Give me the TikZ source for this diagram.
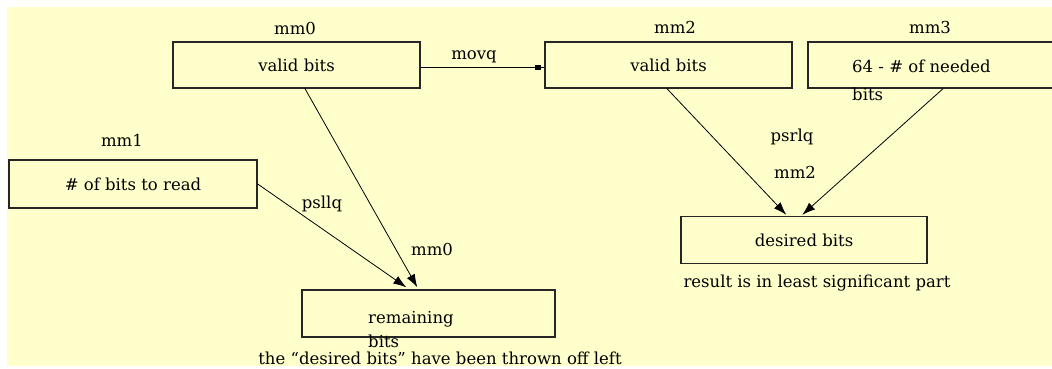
\documentclass[tikz,border=0pt]{standalone}
\usepackage{fontspec}
\setmainfont{DejaVu Serif}
\usetikzlibrary{arrows.meta,calc}
\definecolor{bgyellow}{HTML}{FFFFCC}
\begin{document}
\begin{tikzpicture}[x=1pt,y=-1pt,
  every node/.style={font=\fontsize{16.5pt}{20pt}\selectfont, inner sep=0pt},
  regbox/.style={draw=black!85, line width=1.4pt, rectangle, minimum height=46pt},
  lbl/.style={anchor=center},
  conn/.style={draw=black, line width=0.8pt, -{Latex[length=13pt,width=9pt]}}
]
\useasboundingbox (0,0) rectangle (1052,368);
\clip (0,0) rectangle (1052,368);
\fill[bgyellow] (7,7) rectangle (1052,366);

% boxes
\node[regbox, minimum width=247pt] (mm0) at (296.5,65) {valid bits};
\node[regbox, minimum width=247pt] (mm2) at (668.5,65) {valid bits};
\node[regbox, minimum width=247pt] (mm3) at (931.5,65) {};
\node[regbox, minimum width=248pt, minimum height=48pt] (mm1) at (133,184) {\# of bits to read};
\node[regbox, minimum width=253pt, minimum height=47pt] (rem) at (428.5,313.5) {};
\node[regbox, minimum width=246pt, minimum height=47pt] (des) at (804,240) {desired bits};

% box texts that overflow
\node[anchor=north west, align=left, font=\fontsize{16.5pt}{28pt}\selectfont] (mm3t) at (852,60) {64 - \# of needed\\bits};
\node[anchor=north west, align=left, font=\fontsize{16.5pt}{24pt}\selectfont] (remt) at (368,311) {remaining\\bits};

% register labels
\node[lbl] (l0) at (295,28) {mm0};
\node[lbl] (l2) at (675,27) {mm2};
\node[lbl] (l3) at (930,27) {mm3};
\node[lbl] (l1) at (122,140) {mm1};

% edge labels
\node[lbl] (movq) at (474,57) {movq};
\node[lbl] (psllq) at (322,204) {psllq};
\node[lbl] (m0b) at (432,249) {mm0};
\node[lbl] (psrlq) at (792,137) {psrlq};
\node[lbl] (m2b) at (795,172) {mm2};

% captions
\node[lbl] (cap1) at (440,358) {the \textquotedblleft desired bits\textquotedblright\ have been thrown off left};
\node[lbl] (cap2) at (817,283) {result is in least significant part};

% connectors
\draw[draw=black, line width=0.8pt] ($(mm0.east)+(0,2)$) -- ($(mm2.west)+(0,2)$);
\draw[draw=black, line width=0.8pt, -{Square[length=5pt,width=5pt]}, shorten >=4pt] ($(mm0.east)+(0,2)$) -- ($(mm2.west)+(0,2)$);
\draw[conn] (mm1.east) -- ($(rem.north west)+(105,-2)$);
\draw[conn] ($(mm0.south)+(8.5,0)$) -- ($(rem.north west)+(116,-2)$);
\draw[conn] ($(mm2.south)+(-1.5,0)$) -- ($(des.north west)+(106,-1)$);
\draw[conn] ($(mm3.south)+(11.5,0)$) -- ($(des.north west)+(122,-1)$);
\end{tikzpicture}
\end{document}
